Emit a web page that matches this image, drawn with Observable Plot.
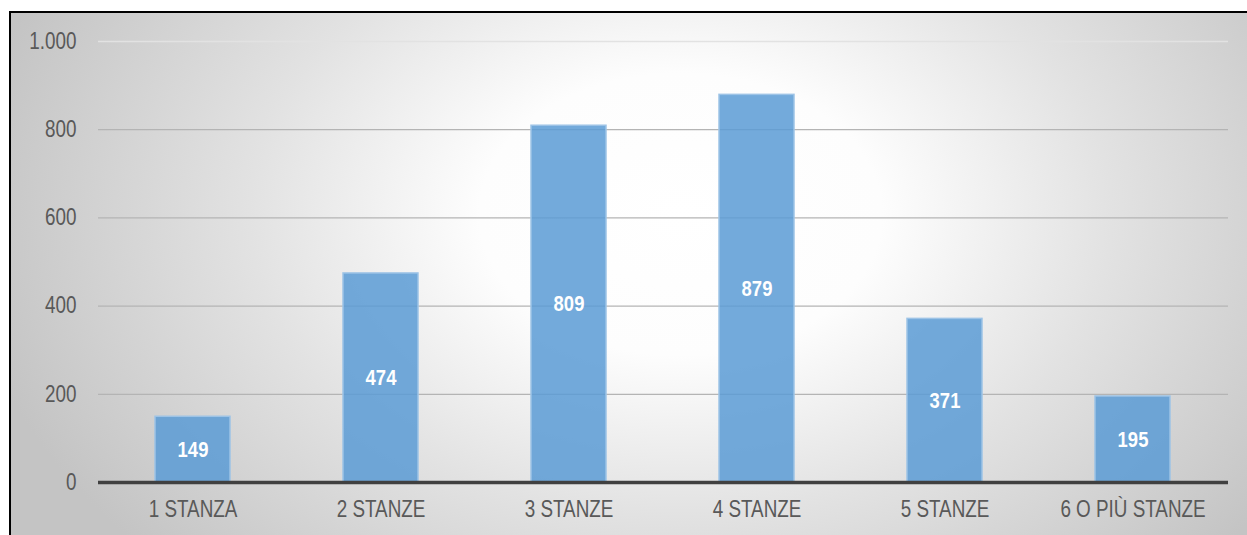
<!DOCTYPE html>
<html>
<head>
<meta charset="utf-8">
<script src="https://cdn.jsdelivr.net/npm/d3@7"></script>
<script src="https://cdn.jsdelivr.net/npm/@observablehq/plot@0.6"></script>
<style>
  html, body { margin: 0; padding: 0; background: #ffffff; }
  #wrap { position: relative; width: 1247px; height: 535px; overflow: hidden; }
  #frame {
    position: absolute; left: 9px; top: 11px; width: 1240px; height: 530px;
    border-top: 2.5px solid #000; border-left: 2.5px solid #000;
    background: radial-gradient(ellipse 58% 95% at 54% 38%, #ffffff 0%, #fdfdfd 28%, #e2e2e2 60%, #c4c4c4 100%);
  }
  #chart { position: absolute; left: 0; top: 0; }
  #chart svg { background: transparent; }
</style>
</head>
<body>
<div id="wrap"><div id="frame"></div><div id="chart"></div></div>
<script>
const categories = ["1 STANZA", "2 STANZE", "3 STANZE", "4 STANZE", "5 STANZE", "6 O PIÙ STANZE"];
const values = [149, 474, 809, 879, 371, 195];
const yTicks = [0, 200, 400, 600, 800, 1000];
const gridTicks = [200, 400, 600, 800, 1000];

const data = categories.map((c, i) => ({category: c, value: values[i]}));
const itFormat = d3.formatLocale({decimal: ",", thousands: ".", grouping: [3], currency: ["€", ""]}).format(",");
const font = "'Liberation Sans', Arial, sans-serif";

const chart = Plot.plot({
  width: 1247,
  height: 535,
  marginTop: 41,
  marginBottom: 53,
  marginLeft: 98,
  marginRight: 19,
  style: {fontFamily: font, fontSize: "23px", color: "#595959", background: "transparent"},
  x: {domain: categories, paddingInner: 0.6, paddingOuter: 0.3, label: null},
  y: {domain: [0, 1000], label: null},
  marks: [
    Plot.ruleY(gridTicks, {stroke: d => d === 1000 ? "#e2e2e2" : "#b4b4b4", strokeWidth: 1.3}),
    Plot.barY(data, {x: "category", y: "value", fill: "#5b9bd5", fillOpacity: 0.85, stroke: "#9dc3e6", strokeWidth: 1.5}),
    Plot.ruleY([0], {stroke: "#404040", strokeWidth: 3.5}),
    Plot.text(data, {x: "category", y: d => d.value / 2, text: d => String(d.value), fill: "#ffffff", fontWeight: "bold", fontSize: 22.5}),
    Plot.axisY({ticks: yTicks, tickFormat: itFormat, tickSize: 0, tickPadding: 22, fill: "#595959", fontSize: 23, label: null}),
    Plot.axisX({tickSize: 0, tickPadding: 18, fill: "#595959", fontSize: 23, label: null})
  ]
});

// Emulate a narrow (condensed) typeface by horizontally compressing each label around its anchor.
chart.querySelectorAll("text").forEach(t => {
  const tr = t.getAttribute("transform");
  if (tr) {
    t.setAttribute("transform", tr + " scale(0.82,1)");
  } else {
    const x = +(t.getAttribute("x") || 0), y = +(t.getAttribute("y") || 0);
    t.removeAttribute("x"); t.removeAttribute("y");
    t.setAttribute("transform", `translate(${x},${y}) scale(0.82,1)`);
  }
});
document.getElementById("chart").appendChild(chart);
</script>
</body>
</html>
